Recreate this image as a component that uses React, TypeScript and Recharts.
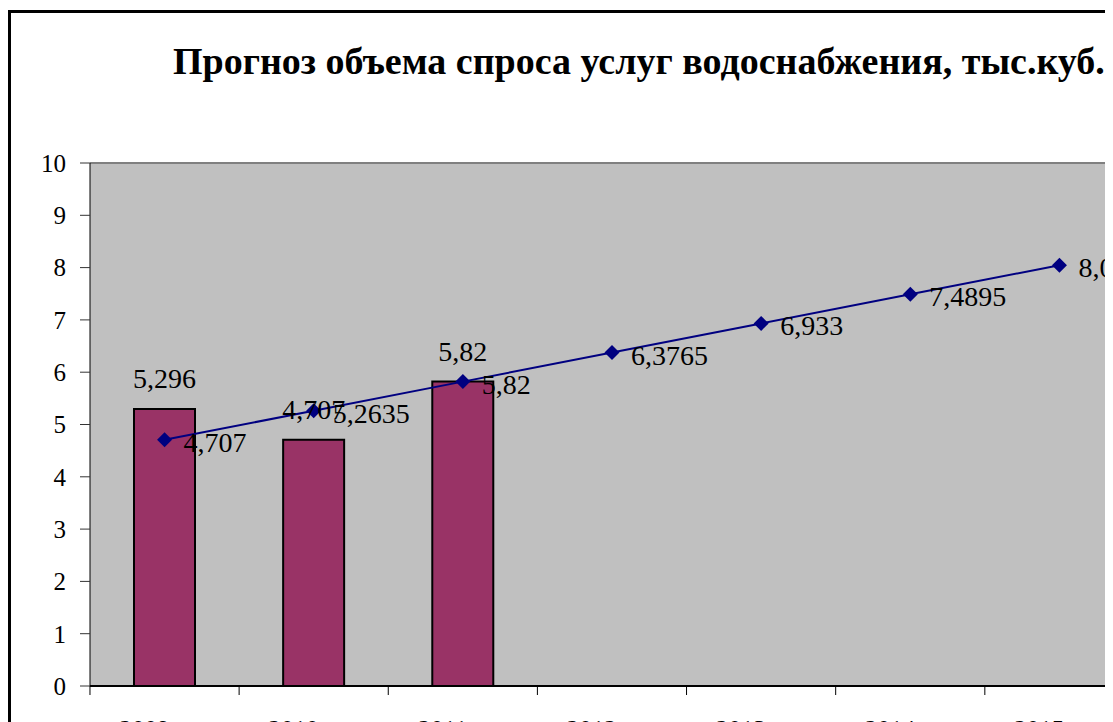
import React from 'react';
import { ComposedChart, Bar, Line, XAxis, YAxis, CartesianGrid, LabelList, ReferenceLine } from 'recharts';

// Годы прогноза
const years = ['2009 год', '2010 год', '2011 год', '2012 год', '2013 год', '2014 год', '2015 год'];
// Фактический объем (столбцы)
const actualVolume = [5.296, 4.707, 5.82, null, null, null, null];
// Прогноз (линия)
const forecastVolume = [4.707, 5.2635, 5.82, 6.3765, 6.933, 7.4895, 8.046];
const yTicks = [0, 1, 2, 3, 4, 5, 6, 7, 8, 9, 10];

const data = years.map((year, i) => ({
  year,
  actual: actualVolume[i],
  forecast: forecastVolume[i],
}));

const FONT = '"Liberation Serif", "Times New Roman", serif';
const fmt = (v: number) => String(v).replace('.', ',');

const Diamond = (props: any) => {
  const { cx, cy } = props;
  if (cx == null || cy == null) return null;
  const s = 7.5;
  return <polygon points={`${cx},${cy - s} ${cx + s},${cy} ${cx},${cy + s} ${cx - s},${cy}`} fill="#000080" />;
};

// подпись по центру категории, засечка на границе категории
const XTick = (props: any) => {
  const { x, y, payload } = props;
  const half = 74.6;
  return (
    <g>
      <line x1={x - half} y1={y - 8} x2={x - half} y2={y + 1} stroke="#000" strokeWidth={1} />
      <text x={x} y={y + 26} dy="0.71em" textAnchor="middle" fontFamily={FONT} fontSize={25} fill="#000">
        {payload.value}
      </text>
    </g>
  );
};

const BarLabel = (props: any) => {
  const { x, y, width, value } = props;
  if (value == null) return null;
  return (
    <text x={x + width / 2} y={y - 21} textAnchor="middle" fontFamily={FONT} fontSize={28} fill="#000">
      {fmt(value)}
    </text>
  );
};

const LineLabel = (props: any) => {
  const { x, y, value } = props;
  if (value == null) return null;
  return (
    <text x={x + 19} y={y + 12} fontFamily={FONT} fontSize={28} fill="#000">
      {fmt(value)}
    </text>
  );
};

const App: React.FC = () => {
  return (
    <div style={{ position: 'relative', width: 1100, height: 714, overflow: 'hidden' }}>
      <div
        style={{
          position: 'absolute',
          left: 0,
          top: 2,
          width: 1400,
          height: 800,
          border: '3px solid #000',
          background: '#fff',
        }}
      >
        <div
          style={{
            position: 'absolute',
            left: 162,
            top: 26,
            whiteSpace: 'nowrap',
            fontFamily: FONT,
            fontWeight: 'bold',
            fontSize: 38,
            lineHeight: 'normal',
            color: '#000',
          }}
        >
          Прогноз объема спроса услуг водоснабжения, тыс.куб.
        </div>
        <ComposedChart
          width={1300}
          height={780}
          data={data}
          margin={{ top: 150, right: 177, bottom: 47, left: 0 }}
          barSize={61}
        >
          <CartesianGrid fill="#C0C0C0" horizontal={false} vertical={false} />
          <ReferenceLine y={10} stroke="#808080" strokeWidth={2} />
          <XAxis
            dataKey="year"
            height={60}
            tickLine={false}
            axisLine={{ stroke: '#000', strokeWidth: 2 }}
            tick={<XTick />}
            interval={0}
          />
          <YAxis
            width={79}
            domain={[0, 10]}
            ticks={yTicks}
            interval={0}
            tickSize={10}
            tickMargin={14}
            axisLine={{ stroke: '#000', strokeWidth: 1 }}
            tickLine={{ stroke: '#333' }}
            tick={{ fontFamily: FONT, fontSize: 25, fill: '#000' }}
          />
          <Bar dataKey="actual" fill="#993366" stroke="#000" strokeWidth={2} isAnimationActive={false}>
            <LabelList dataKey="actual" content={<BarLabel />} />
          </Bar>
          <Line
            dataKey="forecast"
            stroke="#000080"
            strokeWidth={2}
            dot={<Diamond />}
            activeDot={false}
            isAnimationActive={false}
          >
            <LabelList dataKey="forecast" content={<LineLabel />} />
          </Line>
        </ComposedChart>
      </div>
    </div>
  );
};

export default App;
